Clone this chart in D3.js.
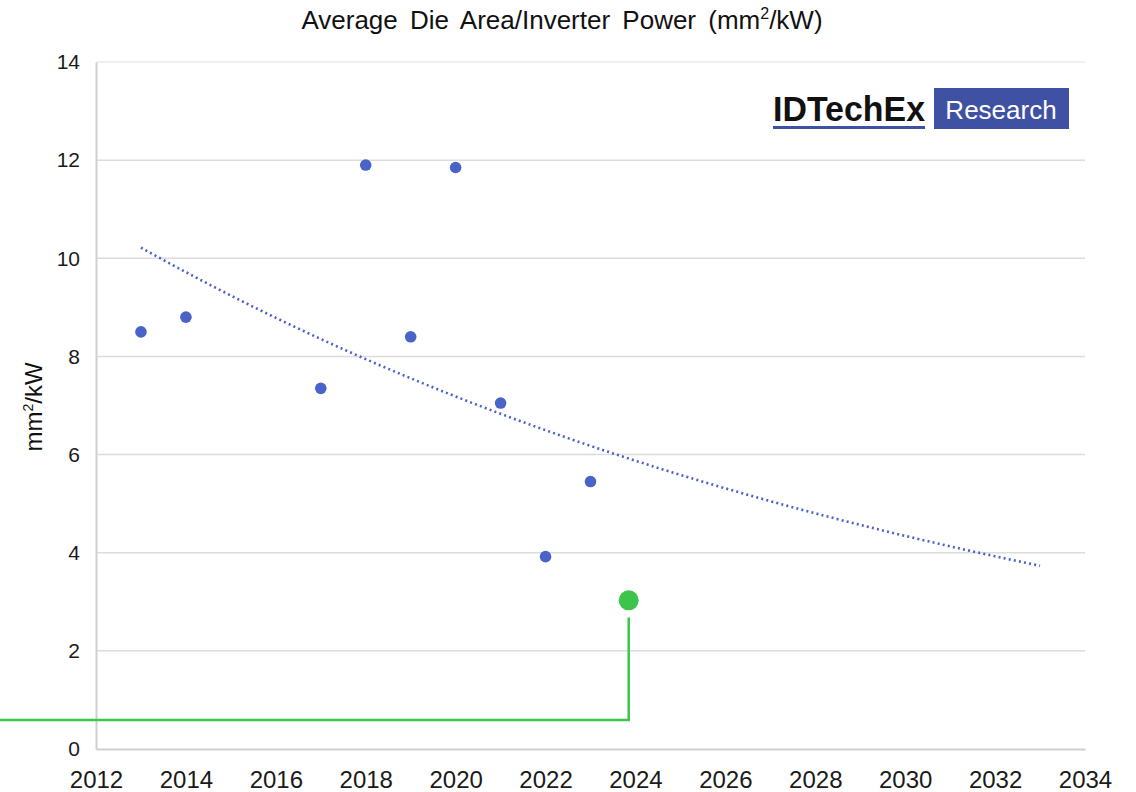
<!DOCTYPE html>
<html>
<head>
<meta charset="utf-8">
<script src="https://cdn.jsdelivr.net/npm/d3@7"></script>
<style>
  body { margin: 0; background: #fff; }
  text { font-family: "Liberation Sans", Arial, sans-serif; }
</style>
</head>
<body>
<div id="chart"></div>
<script>
// data
const years = [2013, 2014, 2017, 2018, 2019, 2020, 2021, 2022, 2023];
const dieArea = [8.5, 8.8, 7.35, 11.9, 8.4, 11.85, 7.05, 3.92, 5.45];
const highlight = {year: 2023.85, value: 3.03};
const connector = [[2023.85, 2.68], [2023.85, 0.59], [2009.86, 0.59]];
const xTicks = d3.range(2012, 2035, 2);
const yTicks = d3.range(0, 15, 2);
const trendRange = [2013, 2033];

// Set up SVG dimensions
const W = 1136, H = 792;
const margin = {top: 62, right: 51, bottom: 43, left: 96};
const width = W - margin.left - margin.right;
const height = H - margin.top - margin.bottom;

const svg = d3.select("#chart").append("svg")
    .attr("width", W)
    .attr("height", H);

const g = svg.append("g")
    .attr("transform", `translate(${margin.left},${margin.top})`);

const x = d3.scaleLinear().domain([2012, 2034]).range([0, width]);
const y = d3.scaleLinear().domain([0, 14]).range([height, 0]);

// gridlines
g.append("g")
    .selectAll("line")
    .data(yTicks.filter(d => d > 0))
    .join("line")
    .attr("x1", 0).attr("x2", width)
    .attr("y1", d => y(d)).attr("y2", d => y(d))
    .style("stroke", d => d === 14 ? "#ebebeb" : "#dcdcdc")
    .style("stroke-width", 1.5);

// axes
const xAxis = g.append("g")
    .attr("transform", `translate(0,${height})`)
    .call(d3.axisBottom(x).tickValues(xTicks).tickFormat(d3.format("d")).tickSize(0).tickPadding(22));
const yAxis = g.append("g")
    .call(d3.axisLeft(y).tickValues(yTicks).tickSize(0).tickPadding(16));

[xAxis, yAxis].forEach(a => {
    a.select(".domain").style("stroke", "#d0d0d0").style("stroke-width", 2);
    a.selectAll("text").style("fill", "#1a1a1a")
        .style("font-family", "'Liberation Sans', Arial, sans-serif");
});
xAxis.selectAll("text").style("font-size", "24px");
yAxis.selectAll("text").style("font-size", "21px");

// exponential trendline fitted to the points (least squares on log values)
const mx = d3.mean(years);
const ly = dieArea.map(Math.log);
const my = d3.mean(ly);
const b = d3.sum(years, (d, i) => (d - mx) * (ly[i] - my)) / d3.sum(years, d => (d - mx) ** 2);
const a = my - b * mx;
const trend = d3.range(trendRange[0], trendRange[1] + 0.01, 0.25).map(t => [t, Math.exp(a + b * t)]);

g.append("path")
    .datum(trend)
    .attr("d", d3.line().x(d => x(d[0])).y(d => y(d[1])))
    .style("fill", "none")
    .style("stroke", "#4a63c8")
    .style("stroke-width", 2.6)
    .style("stroke-dasharray", "2,3.2");

// points
g.append("g")
    .selectAll("circle")
    .data(years.map((d, i) => ({year: d, value: dieArea[i]})))
    .join("circle")
    .attr("cx", d => x(d.year))
    .attr("cy", d => y(d.value))
    .attr("r", 5.8)
    .style("fill", "#4a63c8");

// green highlight and connector
g.append("path")
    .datum(connector)
    .attr("d", d3.line().x(d => x(d[0])).y(d => y(d[1])))
    .style("fill", "none")
    .style("stroke", "#3cc54a")
    .style("stroke-width", 2.5);

g.append("circle")
    .attr("cx", x(highlight.year))
    .attr("cy", y(highlight.value))
    .attr("r", 10)
    .style("fill", "#3cc54a");

// title
svg.append("text")
    .attr("x", 562).attr("y", 29)
    .attr("text-anchor", "middle")
    .style("font-size", "26px")
    .style("word-spacing", "5px")
    .style("fill", "#111")
    .html('Average Die Area/Inverter Power (mm<tspan dy="-10" font-size="16">2</tspan><tspan dy="10">/kW)</tspan>');

// y axis label
svg.append("text")
    .attr("transform", "translate(42,407) rotate(-90)")
    .attr("text-anchor", "middle")
    .style("font-size", "24px")
    .style("fill", "#111")
    .html('mm<tspan dy="-9" font-size="14">2</tspan><tspan dy="9">/kW</tspan>');

// logo
const logo = svg.append("g");
logo.append("text")
    .attr("x", 773).attr("y", 121)
    .attr("textLength", 152)
    .attr("lengthAdjust", "spacingAndGlyphs")
    .style("font-size", "35px")
    .style("font-weight", "bold")
    .style("fill", "#111")
    .text("IDTechEx");
logo.append("rect")
    .attr("x", 773).attr("y", 126).attr("width", 152).attr("height", 3)
    .style("fill", "#3f51a3");
logo.append("rect")
    .attr("x", 934).attr("y", 88).attr("width", 135).attr("height", 41)
    .style("fill", "#3f51a3");
logo.append("text")
    .attr("x", 1001).attr("y", 119)
    .attr("text-anchor", "middle")
    .style("font-size", "26px")
    .style("fill", "#fff")
    .text("Research");
</script>
</body>
</html>
